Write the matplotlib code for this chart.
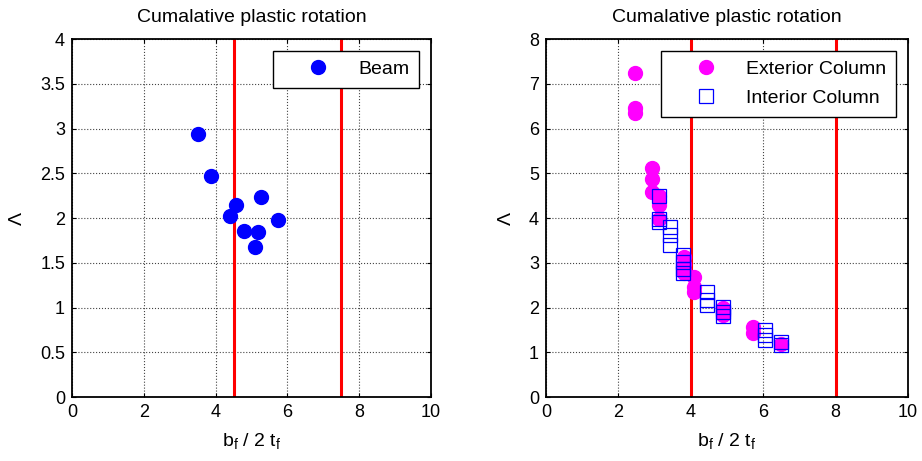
import numpy as np
import matplotlib
matplotlib.use('Agg')
import matplotlib.pyplot as plt

plt.rcParams['font.family'] = ['Liberation Sans', 'DejaVu Sans']

# beam data
beam_x = [3.51, 3.87, 4.58, 4.41, 5.27, 5.74, 4.80, 5.19, 5.10]
beam_y = [2.94, 2.47, 2.15, 2.02, 2.23, 1.98, 1.85, 1.84, 1.68]

# exterior columns
ext_x = [2.46, 2.46, 2.46, 2.92, 2.92, 2.92, 3.13, 3.13, 3.13,
         3.80, 3.80, 3.80, 3.80, 4.10, 4.10, 4.10, 4.90, 4.90,
         5.73, 5.73, 6.48]
ext_y = [7.25, 6.45, 6.34, 5.11, 4.87, 4.57, 4.50, 4.29, 3.97,
         3.13, 2.98, 2.84, 2.76, 2.69, 2.46, 2.35, 1.98, 1.83,
         1.57, 1.42, 1.19]

# interior columns
int_x = [3.13, 3.13, 3.13, 3.43, 3.43, 3.43, 3.78, 3.78, 3.78, 3.78,
         4.44, 4.44, 4.44, 4.90, 4.90, 4.90, 6.05, 6.05, 6.05, 6.48, 6.48]
int_y = [4.50, 3.97, 3.92, 3.81, 3.62, 3.40, 3.17, 3.02, 2.87, 2.76,
         2.35, 2.16, 2.05, 2.01, 1.90, 1.80, 1.49, 1.38, 1.27, 1.23, 1.16]

beam_limits = [4.5, 7.5]
col_limits = [4, 8]

fontsize = 14
ticksize = 13

fig = plt.figure(figsize=(9.22, 4.61), dpi=100)
ax1 = fig.add_axes([72/922, 1-397/461, 359/922, 358/461])
ax2 = fig.add_axes([546/922, 1-397/461, 362/922, 358/461])


def style(ax, ymax):
    ax.set_xlim(0, 10)
    ax.set_ylim(0, ymax)
    ax.set_xticks(np.arange(0, 11, 2))
    ax.grid(True, color='#444444', linestyle=':', linewidth=0.8)
    ax.tick_params(direction='in', top=True, right=True, labelsize=ticksize,
                   length=3, pad=5)
    for s in ax.spines.values():
        s.set_linewidth(1.3)
    ax.set_title('Cumalative plastic rotation', fontsize=fontsize, pad=12)
    ax.set_xlabel('b$_\\mathregular{f}$ / 2 t$_\\mathregular{f}$', fontsize=fontsize,
                  labelpad=8)
    ax.set_ylabel('\u039b', fontsize=fontsize, labelpad=10)


def add_legend(ax):
    leg = ax.legend(loc='upper right', fontsize=fontsize, fancybox=False,
                    edgecolor='black', framealpha=1, handlelength=3.6,
                    handletextpad=0.3, borderaxespad=0.6, borderpad=0.5,
                    labelspacing=0.6)
    leg.get_frame().set_linewidth(1.0)


# left: beams
ax1.plot(beam_x, beam_y, 'o', color='blue', markersize=10, label='Beam', zorder=3)
for xv in beam_limits:
    ax1.axvline(xv, color='red', linewidth=2.2, zorder=2)
style(ax1, 4)
ax1.set_yticks(np.arange(0, 4.01, 0.5))
ax1.set_yticklabels(['0', '0.5', '1', '1.5', '2', '2.5', '3', '3.5', '4'])
add_legend(ax1)

# right: columns
ax2.plot(ext_x, ext_y, 'o', color='magenta', markersize=10,
         label='Exterior Column', zorder=3)
ax2.plot(int_x, int_y, 's', markerfacecolor='none', markeredgecolor='blue',
         markeredgewidth=0.9, markersize=9.5, label='Interior Column', zorder=4)
for xv in col_limits:
    ax2.axvline(xv, color='red', linewidth=2.2, zorder=2)
style(ax2, 8)
ax2.set_yticks(np.arange(0, 9, 1))
add_legend(ax2)

plt.savefig('out.png', dpi=100)
